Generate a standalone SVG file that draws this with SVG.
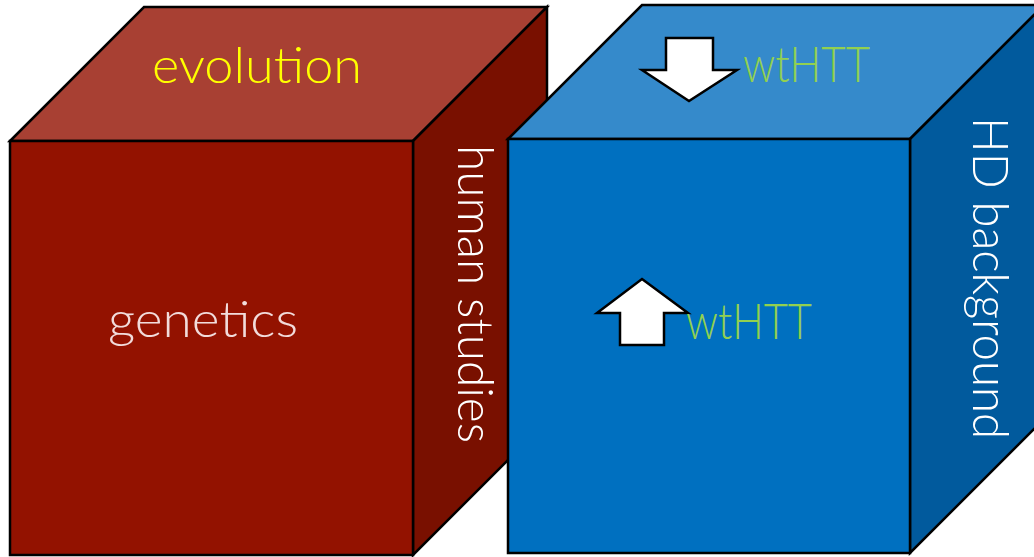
<svg xmlns="http://www.w3.org/2000/svg" width="1034" height="557" viewBox="0 0 1034 557">
  <style>
    .face { stroke: #000; stroke-width: 2.5; stroke-linejoin: miter; }
    .lbl { font-family: Lato, "Liberation Sans", Arial, sans-serif; font-weight: 300; font-size: 50px; }
    .arrow { fill: #fff; stroke: #000; stroke-width: 2.5; stroke-linejoin: miter; }
  </style>
  <rect width="1034" height="557" fill="#fff"/>

  <!-- red cube -->
  <g id="cube-red">
    <polygon class="face" fill="#A84033" points="10,141 144,7 547,7 413,141"/>
    <polygon class="face" fill="#791000" points="413,141 547,7 547,421 413,555"/>
    <rect class="face" fill="#931200" x="10" y="141" width="403" height="414"/>
    <text class="lbl" x="152" y="83" fill="#FFFF00" textLength="210" lengthAdjust="spacingAndGlyphs">evolution</text>
    <text class="lbl" x="108" y="337" fill="#F2DCDB" textLength="190" lengthAdjust="spacingAndGlyphs">genetics</text>
    <text class="lbl" fill="#FFFFFF" font-size="47" transform="translate(458,145) rotate(90)" textLength="298" lengthAdjust="spacingAndGlyphs">human studies</text>
  </g>

  <!-- blue cube -->
  <g id="cube-blue">
    <polygon class="face" fill="#358ACB" points="508,139 642,5 1044,5 910,139"/>
    <polygon class="face" fill="#015A9D" points="910,139 1044,5 1044,419 910,553"/>
    <rect class="face" fill="#0070C0" x="508" y="139" width="402" height="414"/>
    <text class="lbl" fill="#FFFFFF" font-size="42" transform="translate(973,117) rotate(90)" textLength="322" lengthAdjust="spacingAndGlyphs">HD background</text>
  </g>

  <!-- wtHTT inputs -->
  <g id="wthtt-top">
    <polygon class="arrow" points="666,38 713,38 713,70 737,70 689,101 642,70 666,70"/>
    <text class="lbl" x="743" y="82" fill="#92D050" textLength="127" lengthAdjust="spacingAndGlyphs">wtHTT</text>
  </g>
  <g id="wthtt-front">
    <polygon class="arrow" points="642,279 688,313 664,313 664,345 620,345 620,313 597,313"/>
    <text class="lbl" x="686" y="339" fill="#92D050" textLength="126" lengthAdjust="spacingAndGlyphs">wtHTT</text>
  </g>

  <g id="connectors"/>
</svg>
